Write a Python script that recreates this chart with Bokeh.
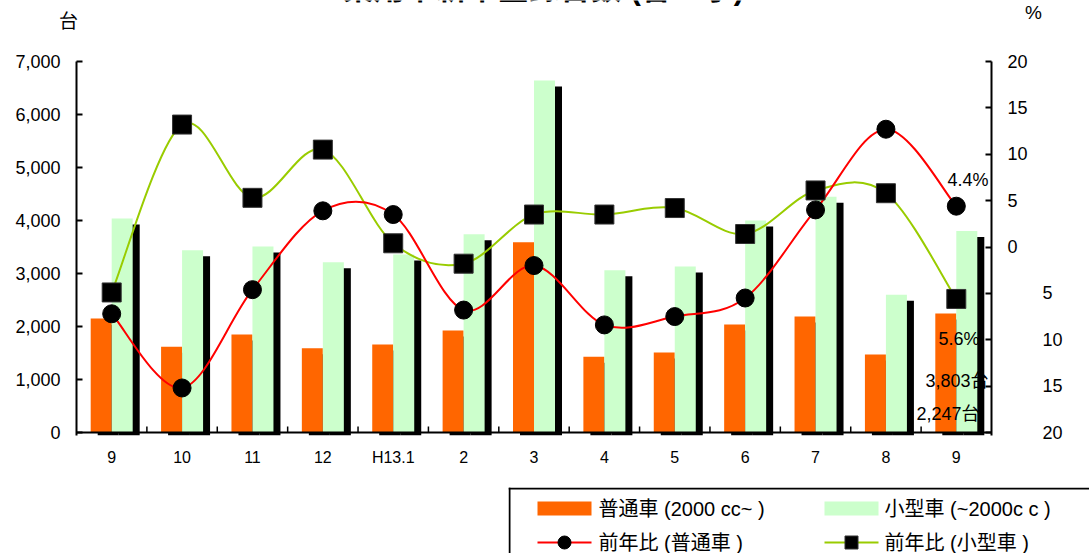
from bokeh.plotting import figure
from bokeh.models import (Range1d, LinearAxis, FixedTicker, Label, Span,
                          Spacer, NumeralTickFormatter)
from bokeh.layouts import column, row
from bokeh.embed import file_html
from bokeh.resources import INLINE
from bokeh.core.properties import value

# ---- data -------------------------------------------------------------
months = ["9", "10", "11", "12", "H13.1", "2", "3", "4", "5", "6", "7", "8", "9"]
futsu = [2150, 1620, 1850, 1590, 1660, 1925, 3590, 1430, 1510, 2040, 2190, 1470, 2247]
kogata = [4040, 3440, 3510, 3210, 3360, 3740, 6640, 3060, 3130, 4000, 4450, 2600, 3803]
futsu_yoy = [-7.2, -15.2, -4.6, 3.9, 3.5, -6.8, -2.0, -8.4, -7.5, -5.5, 4.0, 12.7, 4.4]
kogata_yoy = [-4.9, 13.2, 5.3, 10.5, 0.4, -1.8, 3.5, 3.5, 4.2, 1.4, 6.1, 5.8, -5.6]
count_ticks = [0, 1000, 2000, 3000, 4000, 5000, 6000, 7000]
pct_ticks = [-20, -15, -10, -5, 0, 5, 10, 15, 20]
series_names = ["普通車 (2000 cc~ )", "小型車 (~2000c c )",
                "前年比 (普通車 )", "前年比 (小型車 )"]
title_text = "乗用車新車登録台数 (普・小)"

FONT = "'Liberation Sans', 'Noto Sans CJK JP'"
ORANGE = "#FF6600"
PALE = "#CCFFCC"
RED = "#FF0000"
LIME = "#99CC00"

# ---- geometry ---------------------------------------------------------
W = 1089
HEAD = 45                      # header strip with title and unit labels
H = 487 - HEAD                 # main chart height
LEFT, RIGHT, TOP, BOTTOM = 76, 98, 61 - HEAD, 52
frame_w = W - LEFT - RIGHT
frame_h = H - TOP - BOTTOM
n = len(months)
x_lo, x_hi = -0.5, n - 0.5
px_x = frame_w / (x_hi - x_lo)           # pixels per category
y_hi = 7000.0
y_lo = -3 * y_hi / (frame_h - 3)          # a few pixels below zero for the shadow
px_y = frame_h / (y_hi - y_lo)
p_hi = 20.0
p_lo = -20.0 - 3 * 40.0 / (frame_h - 3)


def to_data(cx, cy):
    """Canvas pixel position (page coords) -> main-axis data coordinates."""
    return (x_lo + (cx - LEFT) / px_x, y_lo + (HEAD + TOP + frame_h - cy) / px_y)


# ---- header -----------------------------------------------------------
head = figure(width=W, height=HEAD, x_range=Range1d(0, W), y_range=Range1d(HEAD, 0),
              toolbar_location=None, output_backend="svg", min_border=0,
              x_axis_type=None, y_axis_type=None)
head.outline_line_color = None
head.grid.visible = False
head.text(x=[543], y=[-12], text=[title_text], text_font=value(FONT),
          text_font_size="31px", text_font_style="bold", text_align="center",
          text_baseline="alphabetic", text_color="black")
head.text(x=[68, 1033], y=[21, 12], text=["台", "%"], text_font=value(FONT),
          text_font_size="19px", text_align="center", text_baseline="middle",
          text_color="black")

# ---- main chart -------------------------------------------------------
p = figure(width=W, height=H, x_range=Range1d(x_lo, x_hi), y_range=Range1d(y_lo, y_hi),
           toolbar_location=None, output_backend="svg",
           min_border_left=LEFT, min_border_right=RIGHT,
           min_border_top=TOP, min_border_bottom=BOTTOM)
p.outline_line_color = None
p.grid.visible = False
p.background_fill_color = "white"
p.extra_y_ranges = {"pct": Range1d(p_lo, p_hi)}

xs = list(range(n))
bw = 21 / px_x                      # bar width
dx = 7 / px_x                       # shadow offset
dy = 6 / px_y

# shadows
p.vbar(x=[x - bw / 2 + dx for x in xs], width=bw, top=[v - dy for v in futsu],
       bottom=y_lo, fill_color="black", line_color=None)
p.vbar(x=[x + bw / 2 + dx for x in xs], width=bw, top=[v - dy for v in kogata],
       bottom=y_lo, fill_color="black", line_color=None)
# bars
p.vbar(x=[x - bw / 2 for x in xs], width=bw, top=futsu, bottom=0,
       fill_color=ORANGE, line_color=None)
p.vbar(x=[x + bw / 2 for x in xs], width=bw, top=kogata, bottom=0,
       fill_color=PALE, line_color=None)

# baseline and category boundary ticks
p.add_layout(Span(location=0, dimension="width", line_color="black", line_width=2))
bounds = [x + 0.5 for x in xs[:-1]]
p.segment(x0=bounds, x1=bounds, y0=[0] * len(bounds), y1=[6 / px_y] * len(bounds),
          line_color="black", line_width=1.5)


def smooth(xv, yv):
    """Bezier segments (Catmull-Rom style) through the points."""
    m = len(xv)
    out = dict(x0=[], y0=[], x1=[], y1=[], cx0=[], cy0=[], cx1=[], cy1=[])
    for i in range(m - 1):
        i0, i3 = max(i - 1, 0), min(i + 2, m - 1)
        out["x0"].append(xv[i]); out["y0"].append(yv[i])
        out["x1"].append(xv[i + 1]); out["y1"].append(yv[i + 1])
        out["cx0"].append(xv[i] + (xv[i + 1] - xv[i0]) / 6)
        out["cy0"].append(yv[i] + (yv[i + 1] - yv[i0]) / 6)
        out["cx1"].append(xv[i + 1] - (xv[i3] - xv[i]) / 6)
        out["cy1"].append(yv[i + 1] - (yv[i3] - yv[i]) / 6)
    return out


p.bezier(**smooth(xs, kogata_yoy), y_range_name="pct", line_color=LIME, line_width=2)
p.bezier(**smooth(xs, futsu_yoy), y_range_name="pct", line_color=RED, line_width=2)
p.scatter(xs, kogata_yoy, y_range_name="pct", marker="square", size=19,
          fill_color="black", line_color="#333333")
p.scatter(xs, futsu_yoy, y_range_name="pct", marker="circle", size=18,
          fill_color="black", line_color="black")

# axes
p.xaxis.ticker = FixedTicker(ticks=xs)
p.xaxis.major_label_overrides = {i: m for i, m in enumerate(months)}
p.xaxis.axis_line_color = None
p.xaxis.major_tick_in = 0
p.xaxis.major_tick_out = 0
p.xaxis.minor_tick_line_color = None
p.xaxis.major_label_standoff = 13
p.xaxis.major_label_text_font = FONT
p.xaxis.major_label_text_font_size = "16px"
p.xaxis.major_label_text_color = "black"

p.yaxis.ticker = FixedTicker(ticks=count_ticks)
p.yaxis.formatter = NumeralTickFormatter(format="0,0")
pct_axis = LinearAxis(y_range_name="pct", ticker=FixedTicker(ticks=pct_ticks))
pct_axis.major_label_overrides = {t: ("\u00a0" * 7 + str(-t)) if t < 0 else str(t)
                                  for t in pct_ticks}
p.add_layout(pct_axis, "right")
for ax in [p.yaxis[0], pct_axis]:
    ax.axis_line_width = 2
    ax.major_tick_line_width = 2
    ax.major_tick_in = 6
    ax.major_tick_out = 0
    ax.minor_tick_line_color = None
    ax.major_label_standoff = 16
    ax.major_label_text_font = FONT
    ax.major_label_text_font_size = "18px"
    ax.major_label_text_color = "black"


def label(cx, cy, text, align="right"):
    x, y = to_data(cx, cy)
    p.add_layout(Label(x=x, y=y, text=text, text_font=FONT, text_font_size="18px",
                       text_align=align, text_baseline="middle", text_color="black"))


label(988, 179, f"{futsu_yoy[-1]:.1f}%")
label(979, 338, f"{abs(kogata_yoy[-1]):.1f}%")
label(988, 380, f"{kogata[-1]:,}台")
label(979, 413, f"{futsu[-1]:,}台")

# ---- legend panel ------------------------------------------------------
LW, LH = W - 508, 553 - 487
leg = figure(width=LW, height=LH, x_range=Range1d(0, LW), y_range=Range1d(LH, 0),
             toolbar_location=None, output_backend="svg", min_border=0,
             x_axis_type=None, y_axis_type=None)
leg.outline_line_color = None
leg.grid.visible = False
leg.segment(x0=[0, 1], x1=[LW, 1], y0=[1, 0], y1=[1, LH], line_color="black", line_width=2)
leg.quad(left=[29, 316], right=[83, 370], top=[14, 14], bottom=[28, 28],
         fill_color=[ORANGE, PALE], line_color=None)
leg.segment(x0=[29, 316], x1=[83, 370], y0=[55, 55], y1=[55, 55],
            line_color=[RED, LIME], line_width=2)
leg.scatter([56], [55], marker="circle", size=13, fill_color="black", line_color="black")
leg.scatter([343], [55], marker="square", size=13, fill_color="black", line_color="#333333")
leg.text(x=[90, 376, 90, 376], y=[21, 21, 55, 55], text=series_names,
         text_font=value(FONT), text_font_size="20px", text_baseline="middle",
         text_color="black")

layout = column(row(head), p, row(Spacer(width=508, height=LH), leg))
open("out.html", "w").write(file_html(layout, INLINE))
